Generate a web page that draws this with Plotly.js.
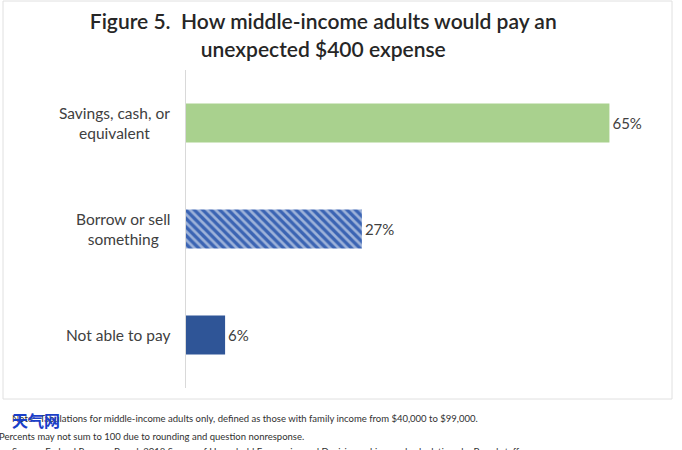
<!DOCTYPE html>
<html>
<head>
<meta charset="utf-8">
<script src="https://cdn.plot.ly/plotly-3.0.1.min.js"></script>
<style>html,body{margin:0;padding:0;background:#fff;}#chart{width:682px;height:450px;}</style>
</head>
<body>
<div id="chart"></div>
<script>
const categories = ["Savings, cash, or<br>equivalent", "Borrow or sell<br>something", "Not able to pay"];
const values = [65, 27, 6];
const barColors = ["#a9d18e", "#3b64b3", "#2f5597"];
const patternShapes = ["", "\\", ""];
const titleText = "Figure 5.  How middle-income adults would pay an<br>unexpected $400 expense";
const notes = [
  "Note:  Tabulations for middle-income adults only, defined as those with family income from $40,000 to $99,000.",
  "Percents may not sum to 100 due to rounding and question nonresponse.",
  "Source: Federal Reserve Board, 2018 Survey of Household Economics and Decisionmaking, and calculations by Board staff."
];
const watermark = "天气网";

const FONT = "Lato, 'Open Sans', sans-serif";

const trace = {
  type: "bar",
  orientation: "h",
  y: categories,
  x: values,
  marker: {
    color: barColors,
    line: {width: 0},
    pattern: {shape: patternShapes, fgcolor: "#9dbbec", bgcolor: "#2f58a8", size: 6, solidity: 0.45, fillmode: "overlay"}
  },
  texttemplate: "%{x}%",
  textposition: "outside",
  cliponaxis: false,
  textfont: {family: FONT, size: 15, color: "#404040"},
  hoverinfo: "skip"
};

const annotations = categories.map((c) => ({
  text: c, xref: "paper", yref: "y", x: -0.03, y: c,
  xanchor: "right", yanchor: "middle", align: "center", showarrow: false,
  font: {family: FONT, size: 15.5, color: "#404040"}
}));

const noteY = [418, 436, 451];
const noteX = [10, -3, 10];
notes.forEach((t, i) => {
  annotations.push({
    text: t, xref: "paper", yref: "paper",
    x: (noteX[i] - 186) / 456, y: (388 - noteY[i]) / 318,
    xanchor: "left", yanchor: "middle", showarrow: false, align: "left",
    font: {family: FONT, size: 9.5, color: "#303030"}
  });
});
annotations.push({
  text: "<b>" + watermark + "</b>", xref: "paper", yref: "paper",
  x: (10 - 186) / 456, y: (388 - 420) / 318, xanchor: "left", yanchor: "middle",
  showarrow: false, font: {family: "'Noto Sans CJK SC', sans-serif", size: 16, color: "#1a3ec8"}
});

const layout = {
  width: 682, height: 450,
  margin: {l: 186, r: 40, t: 70, b: 62},
  paper_bgcolor: "#ffffff", plot_bgcolor: "#ffffff",
  title: {text: titleText, x: 0.474, xref: "container", yref: "container", y: 0.935, yanchor: "top",
          font: {family: FONT, size: 21, color: "#262626", weight: 600}},
  bargap: 0.63,
  showlegend: false,
  xaxis: {range: [0, 70], showgrid: false, zeroline: false, showticklabels: false, showline: false, ticks: ""},
  yaxis: {type: "category", autorange: false, range: [2.5, -0.5], showgrid: false, zeroline: false,
          showticklabels: false, ticks: "", showline: true, linecolor: "#d9d9d9", linewidth: 1},
  shapes: [{type: "rect", xref: "paper", yref: "paper",
            x0: (3 - 186) / 456, x1: (672 - 186) / 456, y0: (388 - 399) / 318, y1: (388 - 1) / 318,
            line: {color: "#e0e0e0", width: 1}, fillcolor: "rgba(0,0,0,0)", layer: "below"}],
  annotations: annotations
};

Plotly.newPlot("chart", [trace], layout, {displayModeBar: false, staticPlot: true});
</script>
</body>
</html>
